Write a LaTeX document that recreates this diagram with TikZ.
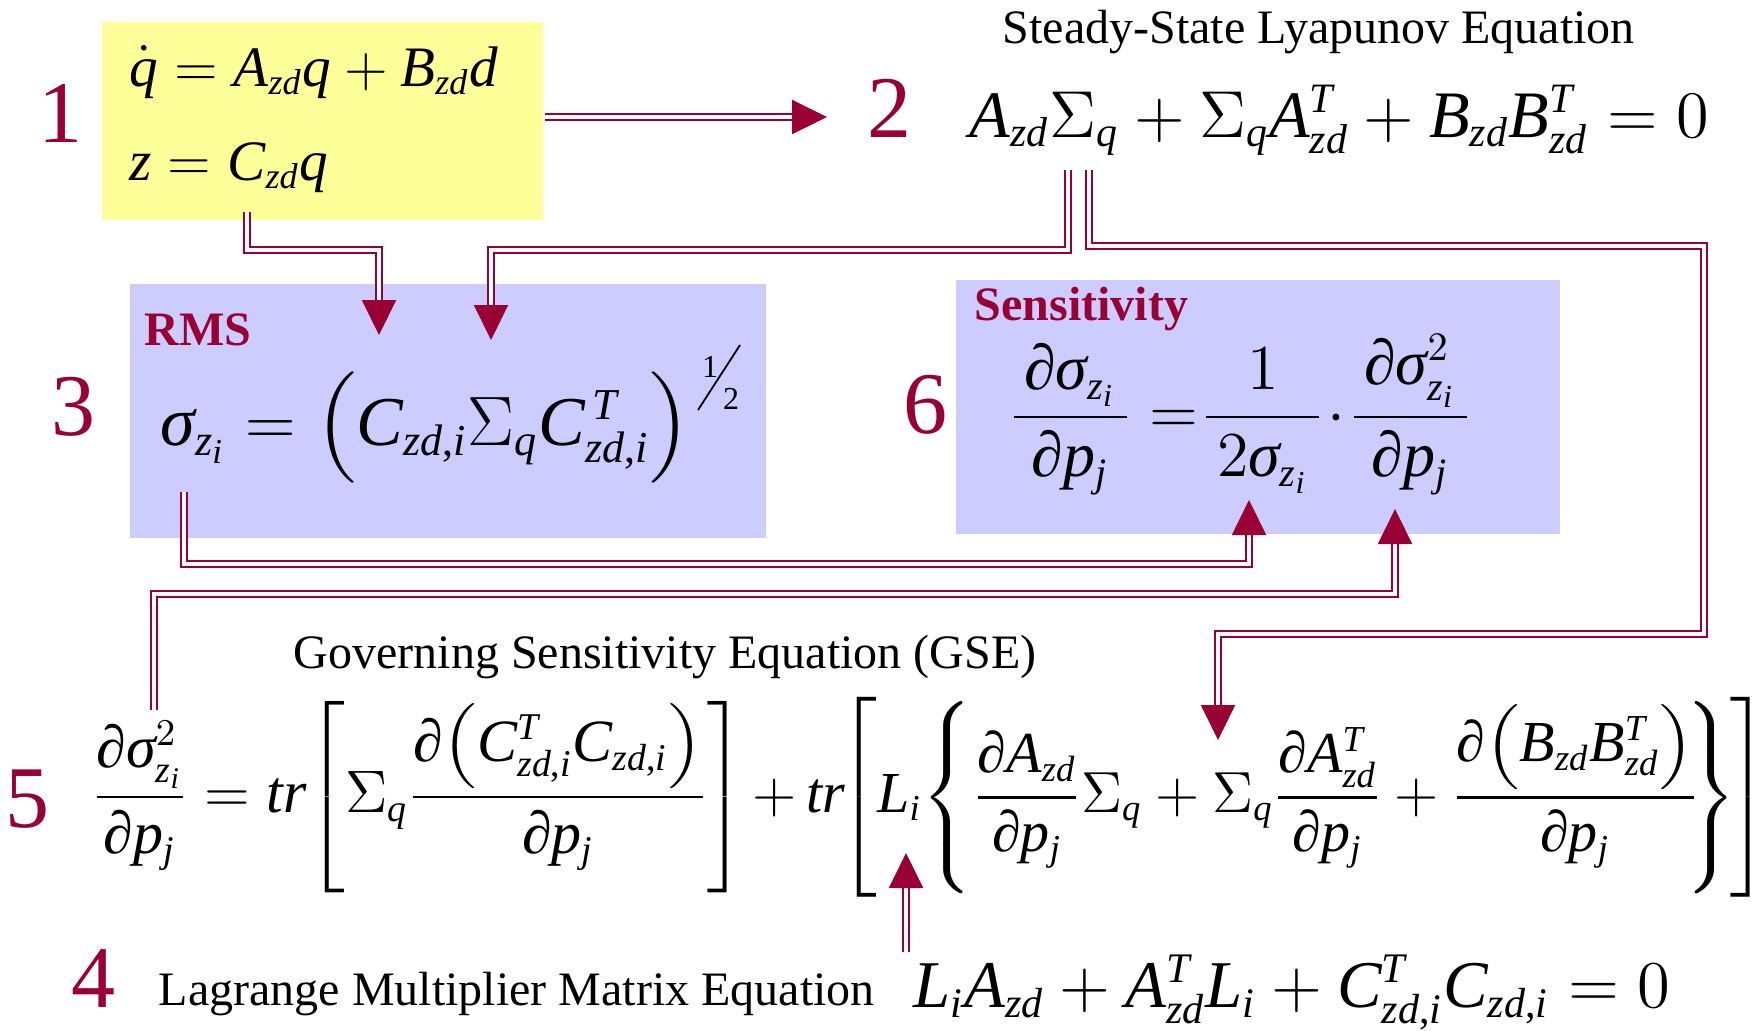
\documentclass[tikz,border=0pt]{standalone}
\usepackage{fix-cm}
\usepackage{amsmath}
\usepackage{graphicx}
\usepackage{fontspec}
\setmainfont{Liberation Serif}
\usetikzlibrary{arrows.meta}
\makeatletter
\edef\@tmpa{\noexpand\DeclareSymbolFont{tnrit}{TU}{\rmdefault}{m}{it}\noexpand\DeclareSymbolFont{tnrup}{TU}{\rmdefault}{m}{n}}
\@tmpa
\count@=`A
\loop\Umathcode\count@="7 \symtnrit\count@ \ifnum\count@<`Z \advance\count@\@ne\repeat
\count@=`a
\loop\Umathcode\count@="7 \symtnrit\count@ \ifnum\count@<`z \advance\count@\@ne\repeat
\count@=`0
\loop\Umathcode\count@="7 \symtnrup\count@ \ifnum\count@<`9 \advance\count@\@ne\repeat
\Umathchardef\sigma="0 \symtnrit "03C3
\Umathchardef\Sigma="0 \symtnrup "03A3
\Umathchardef\partial="0 \symtnrit "2202
\Umathcode`+ = "2 \symtnrup `+
\Umathcode`\= = "3 \symtnrup `\=
\Umathcode`, = "6 \symtnrup `,
\renewcommand\defaultscriptratio{.63}
\makeatother
\delimiterfactor=1000
\delimitershortfall=0pt
\newcommand\vsz[1]{\vcenter to #1{\vfil}}
\newcommand\bigdel[2]{\vcenter{\hbox{\nulldelimiterspace=0pt\resizebox*{\width}{#2}{$\left#1\vsz{#2}\right.$}}}}
\newcommand\od[2]{\mathopen{\bigdel{#1}{#2}}}
\newcommand\cd[2]{\mathclose{\bigdel{#1}{#2}}}
\definecolor{crim}{HTML}{990033}
\definecolor{lav}{HTML}{CCCCFF}
\definecolor{yel}{HTML}{FFFF99}
\begin{document}
\begin{tikzpicture}[x=0.25pt,y=-0.25pt,
  numlab/.style={text=crim, font=\fontsize{22}{24}\selectfont, anchor=base, inner sep=0pt},
  caption/.style={font=\fontsize{12}{14}\selectfont, anchor=base west, inner sep=0pt},
  boxlab/.style={text=crim, font=\bfseries\fontsize{12}{14}\selectfont, anchor=base west, inner sep=0pt},
  eq/.style={anchor=base west, inner sep=0pt},
  panel/.style={anchor=north west, inner sep=0pt, draw=none},
  dbl/.style={draw=crim, line width=0.5pt, double=white, double distance=0.9pt, line join=miter},
  tipped/.style={-{Triangle[length=8.75pt,width=8.5pt]}}
]
\fill[white] (0,0) rectangle (1762,1030);
\useasboundingbox (0,0) rectangle (1762,1030);

% panels
\node[panel, fill=yel, minimum width=110.25pt, minimum height=49.5pt] (box1) at (101,21) {};
\node[panel, fill=lav, minimum width=159pt, minimum height=63.5pt] (box3) at (129,283) {};
\node[panel, fill=lav, minimum width=151pt, minimum height=63.5pt] (box6) at (955,279) {};

% number labels
\node[numlab] (n1) at (60,142) {1};
\node[numlab] (n2) at (889,137) {2};
\node[numlab] (n3) at (73,435) {3};
\node[numlab] (n6) at (925,433) {6};
\node[numlab] (n5) at (28,827) {5};
\node[numlab] (n4) at (93,1007) {4};

% captions
\node[caption] (lyaptitle) at (1002,43) {Steady-State Lyapunov Equation};
\node[caption] (gsetitle) at (293,668) {Governing Sensitivity Equation (GSE)};
\node[caption] (lagtitle) at (158,1005) {Lagrange Multiplier Matrix Equation};
\node[boxlab] (rmslab) at (144,345) {RMS};
\node[boxlab] (senslab) at (974,320) {Sensitivity};

% equations
\node[eq, font=\fontsize{14.3}{18}\selectfont] (eq1a) at (129,86) {$\dot{q} = A_{zd}q + B_{zd}d$};
\node[eq, font=\fontsize{14.3}{18}\selectfont] (eq1b) at (129,180) {$z = C_{zd}q$};
\node[eq, font=\fontsize{16.6}{20}\selectfont] (eq2) at (969,137) {$A_{zd}\Sigma_q + \Sigma_q A^T_{zd} + B_{zd}B^T_{zd} = 0$};
\node[eq, font=\fontsize{17.5}{20}\selectfont] (eq3) at (160,445) {$\sigma_{z_i} = \od{(}{27.75pt}C_{zd,i}\Sigma_q C^{\,T}_{zd,i}\cd{)}{27.75pt}$};
\node[inner sep=0pt, font=\fontsize{8}{8}\selectfont] (halfone) at (710,367) {1};
\node[inner sep=0pt, font=\fontsize{8}{8}\selectfont] (halftwo) at (731,399) {2};
\coordinate (slashA) at (698,410);
\coordinate (slashB) at (740,345);
\draw[line width=0.45pt] (slashA) -- (slashB);
\node[eq, font=\fontsize{16}{18}\selectfont] (eq6) at (1008,433) {$\displaystyle \frac{\,\partial\sigma_{z_i}\,}{\partial p_j} =\mkern-4mu \frac{1}{\,2\sigma_{z_i}\,}\mkern-3mu\cdot\mkern-3mu\frac{\,\partial\sigma^2_{z_i}\,}{\partial p_j}$};
\node[eq, font=\fontsize{15}{18}\selectfont] (eq5a) at (91,812) {$\displaystyle \frac{\partial\sigma^2_{z_i}}{\partial p_j} = tr\od{[}{47.75pt}\Sigma_q\frac{\partial\od{(}{21.25pt}C^T_{zd,i}C_{zd,i}\cd{)}{21.25pt}}{\partial p_j}\cd{]}{47.75pt}$};
\node[eq, font=\fontsize{14.5}{18}\selectfont] (eq5b) at (752,812) {$\displaystyle +\,tr\mkern-2mu\od{[}{50pt}L_i\od{\{}{48.25pt}\frac{\partial A_{zd}}{\partial p_j}\Sigma_q+\Sigma_q\frac{\partial A^T_{zd}}{\partial p_j}+\frac{\partial\od{(}{21.25pt}B_{zd}B^T_{zd}\cd{)}{21.25pt}}{\partial p_j}\mkern-4mu\cd{\}}{48.25pt}\mkern-2mu\cd{]}{50pt}$};
\node[eq, font=\fontsize{16.7}{18}\selectfont] (eq4) at (913,1007) {$L_iA_{zd} + A^T_{zd}L_i + C^T_{zd,i}C_{zd,i} = 0$};

% connectors
\coordinate (a1) at (545,117); \coordinate (a2) at (827,117);
\draw[dbl,tipped] (a1) -- (a2);
\coordinate (b1) at (247,212); \coordinate (b2) at (247,250); \coordinate (b3) at (379,250); \coordinate (b4) at (379,335);
\draw[dbl,tipped] (b1) -- (b2) -- (b3) -- (b4);
\coordinate (c1) at (1068,170); \coordinate (c2) at (1068,250); \coordinate (c3) at (491,250); \coordinate (c4) at (491,340);
\draw[dbl,tipped] (c1) -- (c2) -- (c3) -- (c4);
\coordinate (d1) at (1089,170); \coordinate (d2) at (1089,246); \coordinate (d3) at (1704,246); \coordinate (d4) at (1704,634); \coordinate (d5) at (1218,634); \coordinate (d6) at (1218,740);
\draw[dbl,tipped] (d1) -- (d2) -- (d3) -- (d4) -- (d5) -- (d6);
\coordinate (e1) at (184,492); \coordinate (e2) at (184,564); \coordinate (e3) at (1249,564); \coordinate (e4) at (1249,500);
\draw[dbl,tipped] (e1) -- (e2) -- (e3) -- (e4);
\coordinate (f1) at (154,710); \coordinate (f2) at (154,594); \coordinate (f3) at (1395,594); \coordinate (f4) at (1395,509);
\draw[dbl,tipped] (f1) -- (f2) -- (f3) -- (f4);
\coordinate (g1) at (906,952); \coordinate (g2) at (906,853);
\draw[dbl,tipped] (g1) -- (g2);
\end{tikzpicture}
\end{document}
